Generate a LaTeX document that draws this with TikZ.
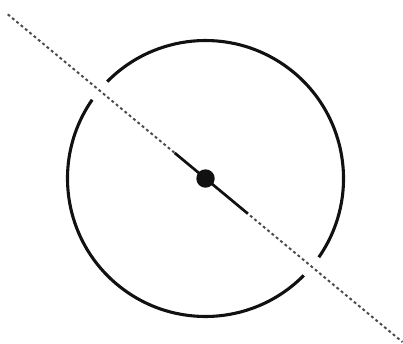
\documentclass[tikz,border=0pt]{standalone}
\usepackage{xcolor}
\usepackage{tikz}
\usetikzlibrary{calc}
\definecolor{RimBlack}{HTML}{111111}
\definecolor{AxisDots}{HTML}{4A4850}

\begin{document}
\begin{tikzpicture}[x=0.25mm,y=0.25mm,
  rim/.style={draw=RimBlack,line width=2.2pt},
  axis/.style={draw=AxisDots,line width=1.4pt,dash pattern=on 2pt off 2pt},
  stem/.style={draw=RimBlack,line width=1.9pt},
  pivot/.style={circle,fill=RimBlack,inner sep=0pt,minimum size=4.6mm}
]
\useasboundingbox (0,0) rectangle (403,343);
\coordinate (centre) at (205.5,164.5);
\coordinate (axisstart) at ($(centre)+(140.3:257)$);
\coordinate (axisend) at ($(centre)+(-39.7:256)$);
\coordinate (stemtop) at ($(centre)+(140.3:40)$);
\coordinate (stembottom) at ($(centre)+(-39.7:55)$);
% circle, broken where the axis passes
\draw[rim] ($(centre)+(145.2:138)$) arc[start angle=145.2,end angle=315.4,radius=138];
\draw[rim] ($(centre)+(-34.8:138)$) arc[start angle=-34.8,end angle=135.4,radius=138];
\draw[axis] (axisstart) -- (axisend);
\draw[stem] (stemtop) -- (stembottom);
\node[pivot] (pivot) at (centre) {};
\end{tikzpicture}
\end{document}
